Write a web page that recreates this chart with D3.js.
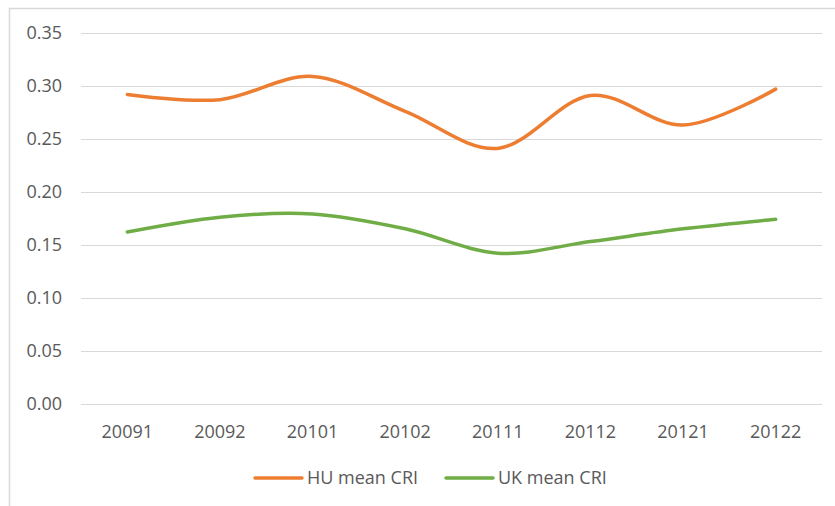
<!DOCTYPE html>
<html>
<head>
<meta charset="utf-8">
<script src="https://cdn.jsdelivr.net/npm/d3@7"></script>
<style>
  body { margin: 0; background: #fff; }
  text { font-family: "Open Sans", sans-serif; fill: #595959; }
</style>
</head>
<body>
<svg id="chart" width="835" height="506"></svg>
<script>
var periods = ["20091", "20092", "20101", "20102", "20111", "20112", "20121", "20122"];
var huMean = [0.292, 0.287, 0.309, 0.276, 0.241, 0.291, 0.263, 0.297];
var ukMean = [0.162, 0.176, 0.179, 0.165, 0.142, 0.153, 0.165, 0.174];
var yTicks = [0, 0.05, 0.10, 0.15, 0.20, 0.25, 0.30, 0.35];

var svg = d3.select("#chart"),
    plotLeft = 81, plotRight = 822, plotTop = 33, plotBottom = 403.5;

// chart area border (only left/top visible in the crop)
svg.append("rect")
    .attr("x", 9.5).attr("y", 8.5)
    .attr("width", 900).attr("height", 600)
    .attr("fill", "none").attr("stroke", "#d9d9d9").attr("stroke-width", 1.5);

var x = d3.scaleBand().domain(periods).range([plotLeft, plotRight]);
var y = d3.scaleLinear().domain([0, 0.35]).range([plotBottom, plotTop]);

// grid lines
svg.append("g").selectAll("line")
    .data(yTicks)
    .enter().append("line")
    .attr("x1", plotLeft).attr("x2", plotRight)
    .attr("y1", d => Math.round(y(d)) + 0.5).attr("y2", d => Math.round(y(d)) + 0.5)
    .attr("stroke", "#d9d9d9").attr("stroke-width", 1);

// y labels
svg.append("g").selectAll("text")
    .data(yTicks)
    .enter().append("text")
    .attr("x", 62).attr("y", d => y(d))
    .attr("dy", "0.35em")
    .attr("text-anchor", "end")
    .style("font-size", "18px")
    .text(d => d.toFixed(2));

// x labels
svg.append("g").selectAll("text")
    .data(periods)
    .enter().append("text")
    .attr("x", d => x(d) + x.bandwidth() / 2).attr("y", 432)
    .attr("dy", "0.35em")
    .attr("text-anchor", "middle")
    .style("font-size", "18px")
    .text(d => d);

var line = d3.line()
    .x((d, i) => x(periods[i]) + x.bandwidth() / 2)
    .y(d => y(d))
    .curve(d3.curveCardinal.tension(0));

var series = [
  { name: "HU mean CRI", values: huMean, color: "#ED7D31" },
  { name: "UK mean CRI", values: ukMean, color: "#70AD47" }
];

svg.append("g").selectAll("path")
    .data(series)
    .enter().append("path")
    .attr("d", d => line(d.values))
    .attr("fill", "none")
    .attr("stroke", d => d.color)
    .attr("stroke-width", 3.5)
    .attr("stroke-linecap", "round");

// legend
var legendX = [255, 446];
var lg = svg.append("g").selectAll("g")
    .data(series)
    .enter().append("g")
    .attr("transform", (d, i) => "translate(" + legendX[i] + ",478)");
lg.append("line")
    .attr("x1", 0).attr("x2", 47)
    .attr("stroke", d => d.color)
    .attr("stroke-width", 3.5)
    .attr("stroke-linecap", "round");
lg.append("text")
    .attr("x", 52).attr("dy", "0.35em")
    .style("font-size", "18px")
    .text(d => d.name);
</script>
</body>
</html>
